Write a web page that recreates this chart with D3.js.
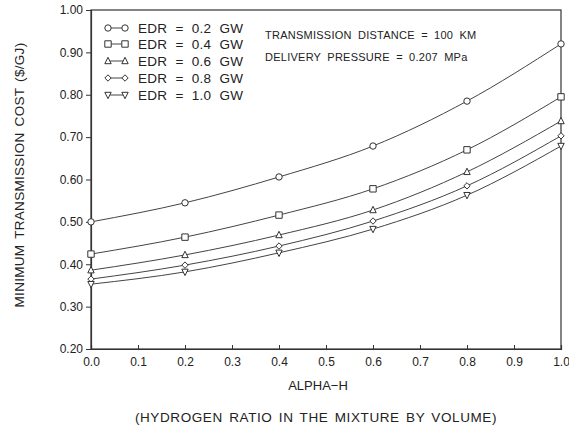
<!DOCTYPE html>
<html>
<head>
<meta charset="utf-8">
<script src="https://cdn.jsdelivr.net/npm/d3@7"></script>
<style>
  body { margin: 0; background: #fff; }
  text { font-family: "Liberation Sans", Arial, sans-serif; fill: #222; }
</style>
</head>
<body>
<svg width="569" height="427"></svg>
<script>
// values
var alphaH = [0.0, 0.2, 0.4, 0.6, 0.8, 1.0];
var edr02 = [0.500, 0.545, 0.606, 0.679, 0.785, 0.920];
var edr04 = [0.424, 0.464, 0.516, 0.578, 0.670, 0.795];
var edr06 = [0.386, 0.422, 0.469, 0.528, 0.618, 0.738];
var edr08 = [0.365, 0.398, 0.443, 0.502, 0.585, 0.703];
var edr10 = [0.353, 0.382, 0.427, 0.483, 0.563, 0.679];
var seriesNames = ["EDR = 0.2 GW", "EDR = 0.4 GW", "EDR = 0.6 GW", "EDR = 0.8 GW", "EDR = 1.0 GW"];
var xTicks = [0, 0.1, 0.2, 0.3, 0.4, 0.5, 0.6, 0.7, 0.8, 0.9, 1.0];
var yTicks = [0.2, 0.3, 0.4, 0.5, 0.6, 0.7, 0.8, 0.9, 1.0];

var series = [edr02, edr04, edr06, edr08, edr10];
var symbols = ["circle", "square", "triangle", "diamond", "triangleDown"];

var svg = d3.select("svg"),
    margin = {top: 10, right: 8, bottom: 78, left: 91},
    width = +svg.attr("width") - margin.left - margin.right,
    height = +svg.attr("height") - margin.top - margin.bottom;

var x = d3.scaleLinear().domain([0, 1]).range([0, width]),
    y = d3.scaleLinear().domain([0.2, 1.0]).range([height, 0]);

var g = svg.append("g")
    .attr("transform", "translate(" + margin.left + "," + margin.top + ")");

// frame
g.append("rect")
    .attr("width", width).attr("height", height)
    .attr("fill", "none").attr("stroke", "#333").attr("stroke-width", 1.2);

var xAxis = g.append("g")
    .attr("transform", "translate(0," + height + ")")
    .call(d3.axisBottom(x).tickValues(xTicks).tickSize(-4).tickPadding(8)
        .tickFormat(d3.format(".1f")));

var yAxis = g.append("g")
    .call(d3.axisLeft(y).tickValues(yTicks).tickSize(5).tickPadding(3)
        .tickFormat(d3.format(".2f")));

[xAxis, yAxis].forEach(function(a) {
    a.select(".domain").attr("stroke", "#333").attr("stroke-width", 1.2);
    a.selectAll(".tick line").attr("stroke", "#333");
    a.selectAll("text").attr("font-size", 12).attr("fill", "#222")
        .attr("font-family", "'Liberation Sans', Arial, sans-serif");
});

function marker(type, cx, cy) {
    var s = 3.2, p;
    if (type === "circle") {
        return g.append("circle").attr("cx", cx).attr("cy", cy).attr("r", s);
    }
    if (type === "square") {
        p = [[cx - s, cy - s], [cx + s, cy - s], [cx + s, cy + s], [cx - s, cy + s]];
    } else if (type === "triangle") {
        p = [[cx, cy - s - 0.5], [cx + s, cy + s - 0.5], [cx - s, cy + s - 0.5]];
    } else if (type === "diamond") {
        p = [[cx, cy - s], [cx + s, cy], [cx, cy + s], [cx - s, cy]];
    } else {
        p = [[cx - s, cy - s + 0.5], [cx + s, cy - s + 0.5], [cx, cy + s + 0.5]];
    }
    return g.append("polygon").attr("points", p.map(function(q) { return q.join(","); }).join(" "));
}

var line = d3.line()
    .x(function(d, i) { return x(alphaH[i]); })
    .y(function(d) { return y(d); })
    .curve(d3.curveMonotoneX);

series.forEach(function(vals, k) {
    g.append("path")
        .datum(vals)
        .attr("d", line)
        .attr("fill", "none")
        .attr("stroke", "#444")
        .attr("stroke-width", 1);
    vals.forEach(function(v, i) {
        marker(symbols[k], x(alphaH[i]), y(v))
            .attr("fill", "#fff").attr("stroke", "#333").attr("stroke-width", 1);
    });
});

// legend
var legendY = [18, 34, 51, 68, 85];
seriesNames.forEach(function(name, k) {
    var ly = legendY[k];
    g.append("line").attr("x1", 17).attr("x2", 34).attr("y1", ly).attr("y2", ly)
        .attr("stroke", "#444");
    marker(symbols[k], 17, ly).attr("fill", "#fff").attr("stroke", "#333");
    marker(symbols[k], 34, ly).attr("fill", "#fff").attr("stroke", "#333");
    g.append("text").attr("x", 47).attr("y", ly + 5)
        .attr("font-size", 13.5).attr("letter-spacing", 0.3).attr("word-spacing", 4)
        .text(name);
});

g.append("text").attr("x", 174).attr("y", 29).attr("font-size", 11)
    .attr("letter-spacing", 0.25).attr("word-spacing", 3)
    .text("TRANSMISSION DISTANCE = 100 KM");
g.append("text").attr("x", 174).attr("y", 51).attr("font-size", 11)
    .attr("letter-spacing", 0.25).attr("word-spacing", 3)
    .text("DELIVERY PRESSURE = 0.207 MPa");

// axis titles
svg.append("text")
    .attr("x", margin.left + x(0.5) - 8).attr("y", 390)
    .attr("text-anchor", "middle").attr("font-size", 13)
    .text("ALPHA\u2212H");
svg.append("text")
    .attr("x", 316).attr("y", 422)
    .attr("text-anchor", "middle").attr("font-size", 13.5)
    .attr("letter-spacing", 0.6).attr("word-spacing", 2)
    .text("(HYDROGEN RATIO IN THE MIXTURE BY VOLUME)");
svg.append("text")
    .attr("transform", "translate(24," + 175 + ") rotate(-90)")
    .attr("text-anchor", "middle").attr("font-size", 13.5)
    .attr("letter-spacing", 0.3).attr("word-spacing", 2)
    .text("MINIMUM TRANSMISSION COST ($/GJ)");
</script>
</body>
</html>
